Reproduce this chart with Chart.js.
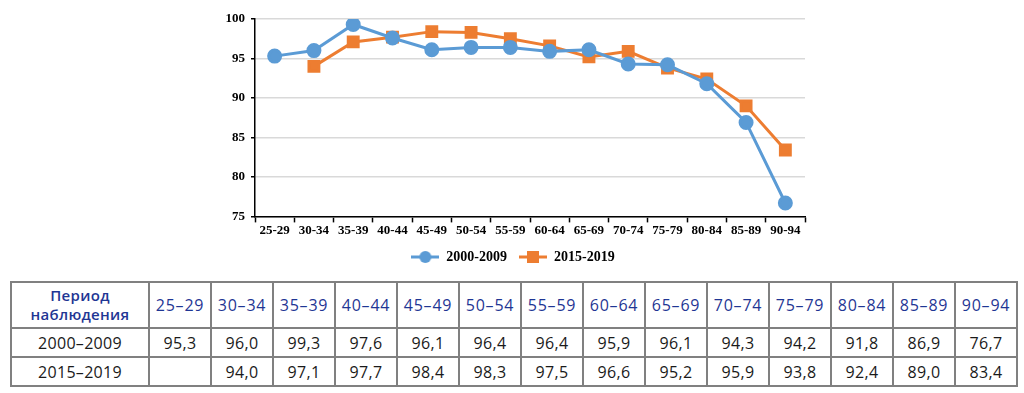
<!DOCTYPE html>
<html lang="ru">
<head>
<meta charset="utf-8">
<script src="https://cdn.jsdelivr.net/npm/chart.js@4.4.1/dist/chart.umd.min.js"></script>
<style>
  html, body { margin: 0; padding: 0; background: #fff; }
  body { width: 1024px; height: 393px; position: relative; overflow: hidden; }
  #chartBox { position: absolute; left: 0; top: 0; width: 1024px; height: 274px; }
  #tbl {
    position: absolute; left: 10px; top: 281px;
    border-collapse: collapse; table-layout: fixed;
    font-family: "Open Sans", "Noto Sans", sans-serif; font-size: 16px;
  }
  #tbl td { border: 2px solid #808080; text-align: center; padding: 0; color: #1a1a1a; letter-spacing: 0.3px; }
  #tbl tr.head td { color: #1f3694; height: 44px; letter-spacing: 0.8px; }
  #tbl tr.head td.first { font-size: 15px; line-height: 19px; font-weight: 600; letter-spacing: 0.3px; }
  #tbl tr.row td { height: 27px; }
</style>
</head>
<body>
<div id="chartBox"><canvas id="ageChart"></canvas></div>
<table id="tbl"></table>

<script>
// Данные
let ageGroups = ['25-29', '30-34', '35-39', '40-44', '45-49', '50-54', '55-59',
                 '60-64', '65-69', '70-74', '75-79', '80-84', '85-89', '90-94'];
let series1Name = '2000-2009';
let series2Name = '2015-2019';
let series1 = [95.3, 96.0, 99.3, 97.6, 96.1, 96.4, 96.4, 95.9, 96.1, 94.3, 94.2, 91.8, 86.9, 76.7];
let series2 = [null, 94.0, 97.1, 97.7, 98.4, 98.3, 97.5, 96.6, 95.2, 95.9, 93.8, 92.4, 89.0, 83.4];
let yTicks = [75, 80, 85, 90, 95, 100];

let blue = '#5b9bd5';
let orange = '#ed7d31';

// Значок легенды: линия с маркером
function legendIcon(color, square) {
    let c = document.createElement('canvas');
    c.width = 28; c.height = 12;
    let g = c.getContext('2d');
    g.strokeStyle = color;
    g.lineWidth = 3;
    g.beginPath(); g.moveTo(0, 6); g.lineTo(28, 6); g.stroke();
    g.fillStyle = color;
    if (square) {
        g.fillRect(8, 0, 12, 12);
    } else {
        g.beginPath(); g.arc(14, 6, 6, 0, Math.PI * 2); g.fill();
    }
    return c;
}

let serif = 'Liberation Serif';

let ageChart = new Chart(document.getElementById('ageChart').getContext('2d'), {
    type: 'line',
    data: {
        labels: ageGroups,
        datasets: [{
            label: series1Name,
            data: series1,
            borderColor: blue,
            backgroundColor: blue,
            borderWidth: 3,
            pointStyle: 'circle',
            pointRadius: 6,
            pointHoverRadius: 6,
            tension: 0
        }, {
            label: series2Name,
            data: series2,
            borderColor: orange,
            backgroundColor: orange,
            borderWidth: 3,
            pointStyle: 'rect',
            pointRadius: 7,
            pointHoverRadius: 7,
            tension: 0
        }]
    },
    options: {
        responsive: true,
        maintainAspectRatio: false,
        animation: false,
        layout: { padding: { left: 221, right: 219, top: 19, bottom: 0 } },
        plugins: {
            tooltip: { enabled: false },
            legend: {
                position: 'bottom',
                labels: {
                    usePointStyle: true,
                    pointStyleWidth: 28,
                    padding: 12,
                    color: '#000',
                    font: { family: serif, size: 14, weight: 'bold' },
                    generateLabels: function (chart) {
                        return chart.data.datasets.map(function (ds, i) {
                            return {
                                text: ds.label,
                                pointStyle: legendIcon(ds.borderColor, i === 1),
                                fillStyle: ds.borderColor,
                                strokeStyle: ds.borderColor,
                                lineWidth: 0,
                                fontColor: '#000',
                                datasetIndex: i
                            };
                        });
                    }
                }
            }
        },
        scales: {
            x: {
                offset: true,
                border: { color: '#000', width: 1.5 },
                grid: { offset: true, drawOnChartArea: false, tickLength: 6, tickColor: '#000', tickWidth: 1.5 },
                ticks: { color: '#000', padding: 0, maxRotation: 0, autoSkip: false,
                         font: { family: serif, size: 13, weight: 'bold' } }
            },
            y: {
                min: 75,
                max: 100,
                afterBuildTicks: function (scale) {
                    scale.ticks = yTicks.map(function (v) { return { value: v }; });
                },
                afterFit: function (scale) { scale.width = 34; },
                border: { color: '#000', width: 1.5 },
                grid: { color: '#d9d9d9', lineWidth: 1.5, tickLength: 4, tickColor: '#000' },
                ticks: { color: '#000', padding: 6,
                         font: { family: serif, size: 13, weight: 'bold' } }
            }
        }
    }
});

// Таблица под графиком
function fmt(v) { return v === null ? '' : v.toFixed(1).replace('.', ','); }
function dash(s) { return s.replace('-', '–'); }

let tbl = document.getElementById('tbl');
let html = '<colgroup><col style="width:138px">';
ageGroups.forEach(function () { html += '<col style="width:62px">'; });
html += '</colgroup>';
html += '<tr class="head"><td class="first">Период<br>наблюдения</td>';
ageGroups.forEach(function (a) { html += '<td>' + dash(a) + '</td>'; });
html += '</tr>';
[[series1Name, series1], [series2Name, series2]].forEach(function (r) {
    html += '<tr class="row"><td>' + dash(r[0]) + '</td>';
    r[1].forEach(function (v) { html += '<td>' + fmt(v) + '</td>'; });
    html += '</tr>';
});
tbl.innerHTML = html;
</script>
</body>
</html>
